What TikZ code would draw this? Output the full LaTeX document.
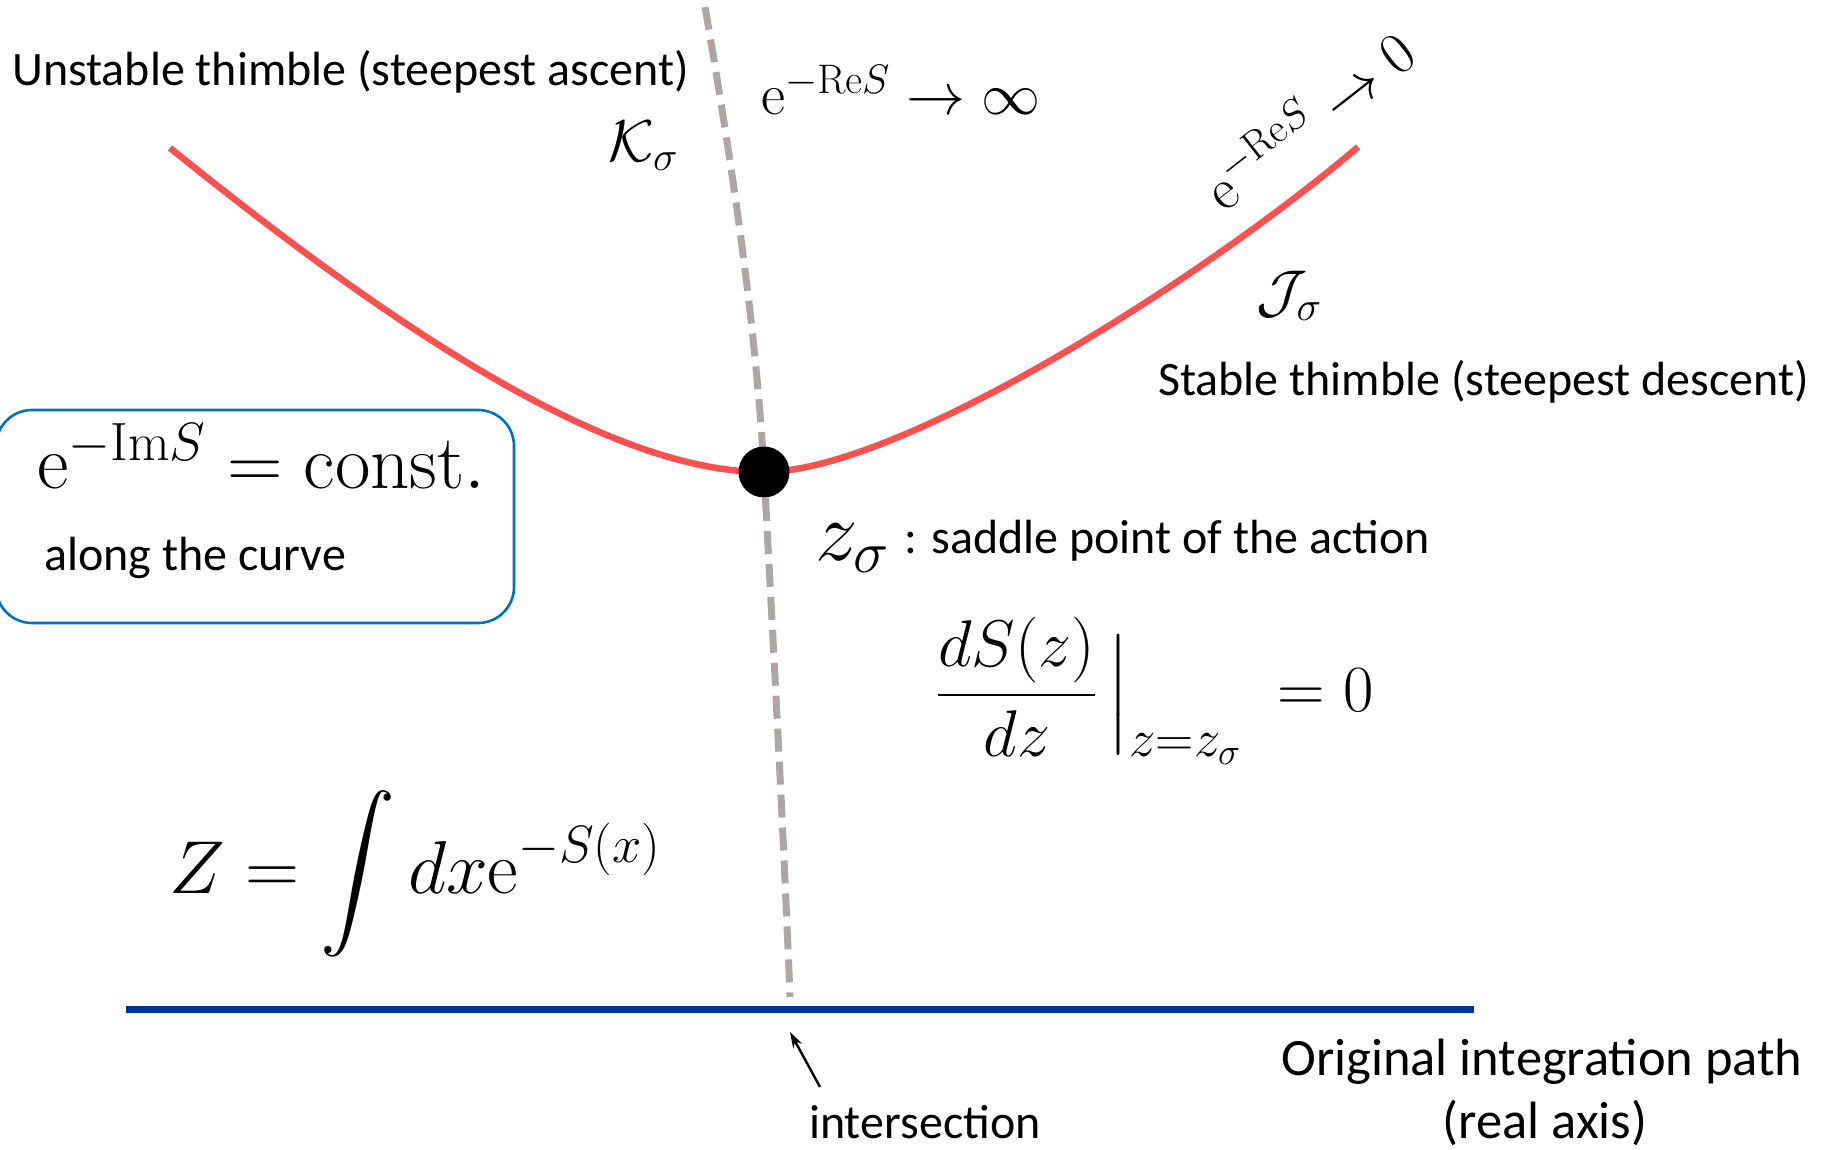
\RequirePackage{fix-cm}
\documentclass[tikz,border=0pt]{standalone}
\usepackage{amsmath}
\usepackage[no-math]{fontspec}
\DeclareFontShape{OMX}{cmex}{m}{n}{<-> cmex10}{}
\newfontfamily\carl{Carlito}
\usetikzlibrary{arrows.meta}
\definecolor{redc}{RGB}{255,80,80}
\definecolor{grayc}{RGB}{172,167,167}
\definecolor{bluec}{RGB}{0,51,153}
\definecolor{boxc}{RGB}{0,112,192}
\begin{document}
\begin{tikzpicture}[x=1pt,y=-1pt,
  txt/.style={font={\carl\fontsize{48}{57}\selectfont}, inner sep=0pt},
  txtL/.style={font={\carl\fontsize{52.5}{63}\selectfont}, inner sep=0pt},
  mA/.style={font={\fontsize{77}{90}\selectfont}, inner sep=0pt},
  mF/.style={font={\fontsize{66}{80}\selectfont}, inner sep=0pt},
  mB/.style={font={\fontsize{59}{70}\selectfont}, inner sep=0pt},
  mZ/.style={font={\fontsize{75}{90}\selectfont}, inner sep=0pt},
  mS/.style={font={\fontsize{85}{100}\selectfont}, inner sep=0pt},
  thimble/.style={draw=redc, line width=6.5pt},
  dual/.style={draw=grayc, line width=7pt, dash pattern=on 23pt off 10pt},
  realaxis/.style={draw=bluec, line width=7pt},
  dotst/.style={circle, fill=black, minimum size=51pt, inner sep=0pt},
  boxst/.style={draw=boxc, line width=2.6pt, rounded corners=36pt, minimum width=518pt, minimum height=213pt, inner sep=0pt},
  pointer/.style={draw=black, line width=2.4pt, -{Stealth[length=16pt,width=10pt]}}
]
\useasboundingbox (0,0) rectangle (1829,1150);

% saddle point
\coordinate (zc) at (764,472);

% box
\node[boxst] (box) at (255,516.5) {};

% thimbles
\coordinate (dTop) at (705,7);
\coordinate (dBot) at (790,997);
\draw[dual] (dTop) .. controls (735,180) and (756.9,340) .. (zc)
                   .. controls (772,620) and (783,820) .. (dBot);
\coordinate (tL) at (170,148);
\coordinate (tR) at (1358,147);
\draw[thimble] (tL) .. controls (420,350) and (620,472) .. (zc)
                    .. controls (900,472) and (1208,275) .. (tR);
\node[dotst] (zsig) at (zc) {};

% real axis
\coordinate (axL) at (126,1009);
\coordinate (axR) at (1474,1009);
\draw[realaxis] (axL) -- (axR);

% intersection pointer
\coordinate (arT) at (820,1087);
\coordinate (arH) at (790,1032);
\draw[pointer] (arT) -- (arH);

% texts
\node[txt, anchor=base west] (unst) at (12,86) {Unstable thimble (steepest ascent)};
\node[txt, anchor=base west] (stab) at (1158,395) {Stable thimble (steepest descent)};
\node[txt, anchor=base west] (along) at (44,570) {along the curve};
\node[mA, anchor=base west] (imS) at (37,488) {$\mathrm{e}^{-\mathrm{Im}S}=\mathrm{const.}$};
\node[mB, anchor=base west] (reinf) at (761,115) {$\mathrm{e}^{-\mathrm{Re}S}\to\infty$};
\node[mB] (Ks) at (643,146) {$\mathcal{K}_\sigma$};
\node[mB] (Js) at (1289,296) {$\mathcal{J}_\sigma$};
\node[mB, rotate=38] (reze) at (1307,118) {$\mathrm{e}^{-\mathrm{Re}S}\to 0$};
\node[mS, anchor=base west] (zs) at (815,560) {$z_\sigma$};
\node[txt, anchor=base west] (saddle) at (904,553) {: saddle point of the action};
\node[mF, anchor=base west] (dS) at (937,711.5) {$\displaystyle \frac{dS(z)}{dz}\,\Big|_{\text{\fontsize{53}{60}\selectfont$z\mathord{=}z_\sigma$}}\;=0$};
\node[mZ, anchor=base west] (Zint) at (169,893) {$\displaystyle Z=\int dx\mathrm{e}^{-S(x)}$};
\node[txt, anchor=base west] (inter) at (809,1138) {intersection};
\node[txtL, anchor=base] (orig1) at (1542,1075) {Original integration path};
\node[txtL, anchor=base] (orig2) at (1545,1138) {(real axis)};
\end{tikzpicture}
\end{document}
